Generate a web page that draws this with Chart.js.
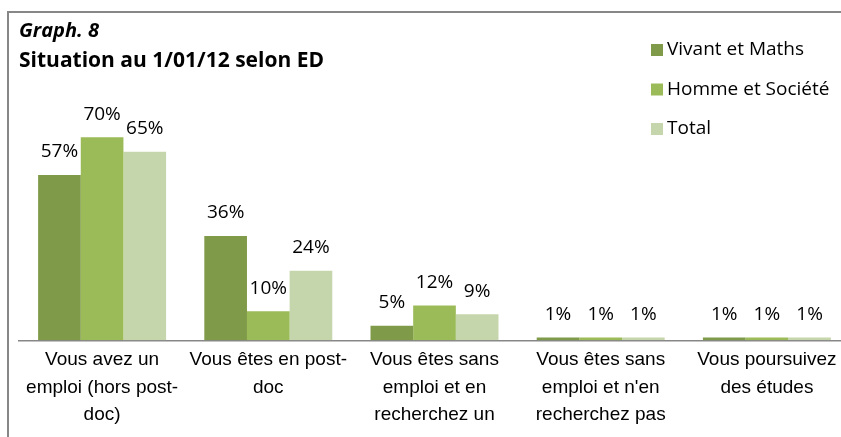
<!DOCTYPE html>
<html>
<head>
<meta charset="utf-8">
<script src="https://cdn.jsdelivr.net/npm/chart.js@4.4.1/dist/chart.umd.min.js"></script>
<style>
	html, body { margin: 0; padding: 0; background: #fff; overflow: hidden; }
	#wrap { position: relative; width: 860px; height: 437px; }
	#frame { position: absolute; left: 7px; top: 11px; width: 900px; height: 500px;
		border-left: 2px solid #878787; border-top: 2px solid #878787; pointer-events: none; }
</style>
</head>
<body>
<div id="wrap">
	<canvas id="chart" width="860" height="437"></canvas>
	<div id="frame"></div>
</div>
<script>
const categories = [
	['Vous avez un', 'emploi (hors post-', 'doc)'],
	['Vous êtes en post-', 'doc'],
	['Vous êtes sans', 'emploi et en', 'recherchez un'],
	['Vous êtes sans', 'emploi et n\'en', 'recherchez pas'],
	['Vous poursuivez', 'des études']
];
const seriesNames = ['Vivant et Maths', 'Homme et Société', 'Total'];
const vivantMaths = [57, 36, 5, 1, 1];
const hommeSociete = [70, 10, 12, 1, 1];
const total = [65, 24, 9, 1, 1];
const colors = ['#7f9a48', '#9bbb59', '#c6d6ac'];

const textFont = "'Open Sans', 'Liberation Sans', sans-serif";

// values above bars
const valueLabels = {
	id: 'valueLabels',
	afterDatasetsDraw(chart) {
		const ctx = chart.ctx;
		ctx.save();
		ctx.font = '19px ' + textFont;
		ctx.fillStyle = '#000';
		ctx.textAlign = 'center';
		ctx.textBaseline = 'middle';
		chart.data.datasets.forEach((ds, i) => {
			chart.getDatasetMeta(i).data.forEach((bar, j) => {
				ctx.fillText(ds.data[j] + '%', bar.x, bar.y - 23);
			});
		});
		ctx.restore();
	}
};

// legend on the right, stacked
const sideLegend = {
	id: 'sideLegend',
	afterDraw(chart) {
		const ctx = chart.ctx;
		ctx.save();
		ctx.font = '19px ' + textFont;
		ctx.textBaseline = 'middle';
		chart.data.datasets.forEach((ds, i) => {
			const y = 50 + i * 39.5;
			ctx.fillStyle = ds.backgroundColor;
			ctx.fillRect(651, y - 6, 12, 12);
			ctx.fillStyle = '#000';
			ctx.fillText(ds.label, 667, y);
		});
		ctx.restore();
	}
};

new Chart(document.getElementById('chart'), {
	type: 'bar',
	data: {
		labels: categories,
		datasets: [
			{ label: seriesNames[0], data: vivantMaths, backgroundColor: colors[0] },
			{ label: seriesNames[1], data: hommeSociete, backgroundColor: colors[1] },
			{ label: seriesNames[2], data: total, backgroundColor: colors[2] }
		]
	},
	options: {
		responsive: false,
		animation: false,
		layout: { padding: { left: 19, right: 10, top: 0, bottom: 2 } },
		datasets: { bar: { categoryPercentage: 0.77, barPercentage: 1 } },
		plugins: {
			legend: { display: false },
			tooltip: { enabled: false },
			title: {
				display: true, text: 'Graph. 8', align: 'start', color: '#000',
				font: { family: textFont, size: 20, weight: 'bold', style: 'italic', lineHeight: 1.2 },
				padding: { top: 19, bottom: 0 }
			},
			subtitle: {
				display: true, text: 'Situation au 1/01/12 selon ED', align: 'start', color: '#000',
				font: { family: textFont, size: 21, weight: 'bold', lineHeight: 1.2 },
				padding: { top: 5, bottom: 35 }
			}
		},
		scales: {
			y: { display: false, min: 0, max: 80 },
			x: {
				grid: { display: false, drawTicks: false },
				border: { display: true, color: '#878787', width: 1.5 },
				ticks: {
					color: '#000', maxRotation: 0, autoSkip: false, padding: 6,
					font: { family: "'Liberation Sans Narrow', 'Liberation Sans', sans-serif", size: 19, lineHeight: 1.45 }
				}
			}
		}
	},
	plugins: [valueLabels, sideLegend]
});
</script>
</body>
</html>
